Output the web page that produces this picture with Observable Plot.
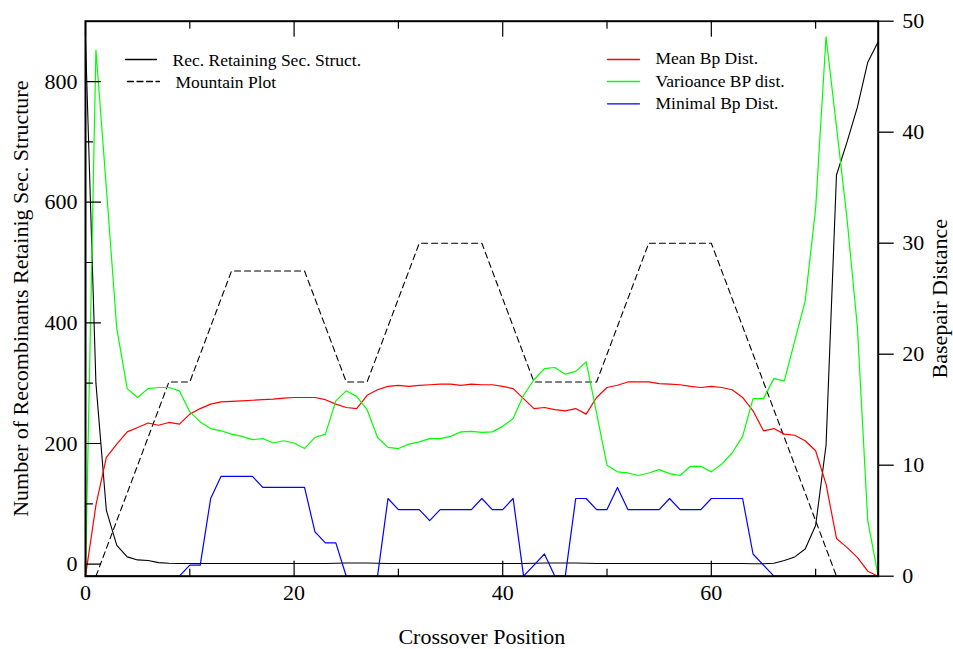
<!DOCTYPE html>
<html><head><meta charset="utf-8">
<script src="https://cdn.jsdelivr.net/npm/d3@7"></script>
<script src="https://cdn.jsdelivr.net/npm/@observablehq/plot@0.6"></script>
<style>html,body{margin:0;padding:0;background:#fff;}#chart{width:953px;height:649px;}</style>
</head><body><div id="chart"></div>
<script>
// Crossover positions
const positions = [0,1,2,3,4,5,6,7,8,9,10,11,12,13,14,15,16,17,18,19,20,21,22,23,24,25,26,27,28,29,30,31,32,33,34,35,36,37,38,39,40,41,42,43,44,45,46,47,48,49,50,51,52,53,54,55,56,57,58,59,60,61,62,63,64,65,66,67,68,69,70,71,72,73,74,75,76];
// Left axis: number of recombinants retaining secondary structure
const recRetaining = [870,300,89,31,12,7,6,2.5,1.5,1, 1,1,1,1,1,1,1,1,1,1, 1,1,1,1,1.5,2,2,2,1.5,1, 1,1,1,1,1,1,1,1,1,1, 1,1,1,1.5,2,2,2,2,1.5,1, 1,1,1,1,1,1,1,1,1,1, 1,1,1,1,0.6,0.6,1.5,6,12,25, 64,197,645,699,757,832,866];
// Right axis: basepair distance
const mountain = [null,0,2.5,5,7.5,10,12.5,15,17.5,17.5, 17.5,20,22.5,25,27.5,27.5,27.5,27.5,27.5,27.5, 27.5,27.5,25,22.5,20,17.5,17.5,17.5,20,22.5, 25,27.5,30,30,30,30,30,30,30,27.5, 25,22.5,20,17.5,17.5,17.5,17.5,17.5,17.5,17.5, 20,22.5,25,27.5,30,30,30,30,30,30, 30,27.5,25,22.5,20,17.5,15,12.5,10,7.5, 5,2.5,0,null,null,null,null];
const meanBp = [0,6.4,10.7,11.9,13.0,13.4,13.8,13.6,13.85,13.7, 14.6,15.1,15.5,15.7,15.75,15.8,15.85,15.9,15.95,16.05, 16.1,16.1,16.1,15.9,15.5,15.2,15.1,16.3,16.8,17.1, 17.2,17.1,17.2,17.25,17.3,17.3,17.2,17.3,17.25,17.25, 17.1,16.9,16.0,15.1,15.2,15.0,14.9,15.1,14.6,16.1, 17.0,17.2,17.5,17.5,17.5,17.35,17.3,17.25,17.1,17.0, 17.1,17.0,16.8,16.1,14.9,13.1,13.3,12.8,12.7,12.2, 11.3,8.3,3.4,2.6,1.7,0.45,0];
const varBp = [0,47.4,35,22.3,16.9,16.1,16.9,17.0,17.0,16.7, 14.8,13.9,13.3,13.1,12.8,12.6,12.3,12.4,12.0,12.2, 12.0,11.5,12.5,12.8,15.8,16.7,16.2,15.0,12.5,11.6, 11.5,11.9,12.1,12.4,12.4,12.6,13.0,13.05,12.95,13.0, 13.5,14.2,16.3,17.7,18.7,18.8,18.2,18.45,19.3,14.7, 10.0,9.4,9.3,9.07,9.3,9.6,9.24,9.07,9.9,9.9, 9.4,10.1,11.1,12.6,16.0,16.0,17.8,17.6,21.2,24.8, 33.1,48.6,40.5,32.3,22.5,5.0,0];
const minBp = [0,0,0,0,0,0,0,0,0,0, 1,1,7,9,9,9,9,8,8,8, 8,8,4,3,3,0,0,0,0,7, 6,6,6,5,6,6,6,6,7,6, 6,7,0,1,2,0,0,7,7,6, 6,8,6,6,6,6,7,6,6,6, 7,7,7,7,2,1,0,0,0,0, 0,0,0,0,0,0,0];

const seriesNames = ["Rec. Retaining Sec. Struct.", "Mountain Plot", "Mean Bp Dist.", "Varioance BP dist.", "Minimal Bp Dist."];
const seriesColors = ["black", "black", "red", "lime", "blue"];

const xMajorTicks = [0,20,40,60];
const xMinorTicks = [10,30,50,70];
const leftMajorTicks = [0,200,400,600,800];
const leftMinorTicks = [100,300,500,700];
const rightTicks = [0,10,20,30,40,50];
const xDomain = [0,76];
const leftDomain = [-20,900];
const rightDomain = [0,50];

const toRight = L => rightDomain[0] + (L - leftDomain[0]) * (rightDomain[1]-rightDomain[0]) / (leftDomain[1]-leftDomain[0]);
const fromRight = v => leftDomain[0] + (v - rightDomain[0]) * (leftDomain[1]-leftDomain[0]) / (rightDomain[1]-rightDomain[0]);

const rows = (vals, conv = d => d) => positions.map((p, i) => ({x: p, y: vals[i] == null ? null : conv(vals[i])}));

const tickShape = {draw(context, l) { context.moveTo(0, 0); context.lineTo(0, -l); }};
const FONT = "'Liberation Serif', 'Times New Roman', serif";

const legendMarks = [];
const legendEntries = [
  {i: 0, sx: 40, sy: 38.3, len: 31, tx: 87, ty: 38.7, dash: null},
  {i: 1, sx: 42, sy: 60.3, len: 32, tx: 90, ty: 61, dash: "6,3.5"},
  {i: 2, sx: 522, sy: 38.3, len: 32, tx: 570, ty: 37.2, dash: null},
  {i: 3, sx: 522, sy: 60.3, len: 32, tx: 570, ty: 60.5, dash: null},
  {i: 4, sx: 522, sy: 82.6, len: 32, tx: 570, ty: 82.2, dash: null}
];
for (const e of legendEntries) {
  legendMarks.push(Plot.vector([seriesNames[e.i]], {frameAnchor: "top-left", dx: e.sx, dy: e.sy, rotate: 90, length: e.len, anchor: "start", shape: tickShape, stroke: seriesColors[e.i], strokeWidth: 1.3, strokeDasharray: e.dash}));
  legendMarks.push(Plot.text([seriesNames[e.i]], {frameAnchor: "top-left", dx: e.tx, dy: e.ty, text: d => d, textAnchor: "start", lineAnchor: "middle", fontSize: 17.5, fill: "black"}));
}

const chart = Plot.plot({
  width: 953, height: 649,
  marginLeft: 85, marginRight: 75.3, marginTop: 20.7, marginBottom: 73.3,
  style: {fontFamily: FONT, background: "white", color: "black"},
  x: {domain: xDomain, label: null},
  y: {domain: rightDomain, label: null},
  marks: [
    Plot.line(rows(recRetaining, toRight), {x: "x", y: "y", stroke: seriesColors[0], strokeWidth: 1.1}),
    Plot.line(rows(mountain), {x: "x", y: "y", stroke: seriesColors[1], strokeWidth: 1.1, strokeDasharray: "6,4"}),
    Plot.line(rows(meanBp), {x: "x", y: "y", stroke: seriesColors[2], strokeWidth: 1.2}),
    Plot.line(rows(varBp), {x: "x", y: "y", stroke: seriesColors[3], strokeWidth: 1.2}),
    Plot.line(rows(minBp), {x: "x", y: "y", stroke: seriesColors[4], strokeWidth: 1.2}),
    // inner ticks
    Plot.vector(leftMajorTicks, {y: d => toRight(d), frameAnchor: "left", rotate: 90, length: 15, anchor: "start", shape: tickShape, stroke: "black", strokeWidth: 1.2}),
    Plot.vector(leftMinorTicks, {y: d => toRight(d), frameAnchor: "left", rotate: 90, length: 7, anchor: "start", shape: tickShape, stroke: "black", strokeWidth: 1.2}),
    Plot.vector(xMajorTicks, {x: d => d, frameAnchor: "bottom", rotate: 0, length: 15, anchor: "start", shape: tickShape, stroke: "black", strokeWidth: 1.2}),
    Plot.vector(xMinorTicks, {x: d => d, frameAnchor: "bottom", rotate: 0, length: 7, anchor: "start", shape: tickShape, stroke: "black", strokeWidth: 1.2}),
    Plot.vector(xMajorTicks, {x: d => d, frameAnchor: "top", rotate: 180, length: 15, anchor: "start", shape: tickShape, stroke: "black", strokeWidth: 1.2}),
    Plot.vector(xMinorTicks, {x: d => d, frameAnchor: "top", rotate: 180, length: 7, anchor: "start", shape: tickShape, stroke: "black", strokeWidth: 1.2}),
    // axes
    Plot.axisX({ticks: xMajorTicks, anchor: "bottom", tickSize: 0, tickPadding: 8, fontSize: 22, label: null}),
    Plot.axisY({ticks: leftMajorTicks.map(toRight), anchor: "left", tickSize: 0, tickPadding: 8, fontSize: 22, label: null, tickFormat: v => String(Math.round(fromRight(v)))}),
    Plot.axisY({ticks: rightTicks, anchor: "right", tickSize: 15, tickPadding: 9, fontSize: 22, label: null, strokeWidth: 1.3}),
    // axis titles
    Plot.text(["Crossover Position"], {frameAnchor: "bottom", dy: 61, text: d => d, textAnchor: "middle", lineAnchor: "middle", fontSize: 22, fill: "black"}),
    Plot.text(["Number of Recombinants Retainig Sec. Structure"], {frameAnchor: "left", dx: -65, rotate: -90, text: d => d, textAnchor: "middle", lineAnchor: "middle", fontSize: 22, fill: "black"}),
    Plot.text(["Basepair Distance"], {frameAnchor: "right", dx: 61.8, rotate: -90, text: d => d, textAnchor: "middle", lineAnchor: "middle", fontSize: 22, fill: "black"}),
    ...legendMarks,
    Plot.frame({stroke: "black", strokeWidth: 2})
  ]
});
document.getElementById("chart").appendChild(chart);
</script>
</body></html>
